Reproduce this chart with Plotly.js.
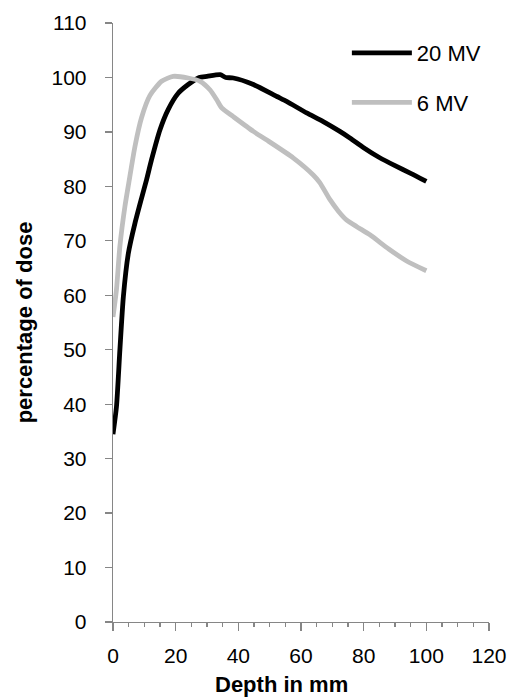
<!DOCTYPE html>
<html>
<head>
<meta charset="utf-8">
<script src="https://cdn.plot.ly/plotly-3.0.1.min.js"></script>
<style>html,body{margin:0;padding:0;background:#fff;}#chart{width:514px;height:700px;}</style>
</head>
<body>
<div id="chart"></div>
<script>
const seriesNames = ["20 MV", "6 MV"];
const depth20 = [0, 1.1, 2.2, 3.3, 4.9, 7, 9.1, 10.7, 12.3, 15, 17.6, 20.8, 24, 27.5, 30, 34.2, 36, 38.4, 44.8, 52.3, 55.4, 61.8, 67.1, 72.4, 75.6, 80, 85, 90, 95, 100];
const dose20 = [34.5, 39.5, 50, 59.7, 67.7, 73.2, 77.8, 81.2, 84.9, 90.4, 94.1, 97.1, 98.7, 100, 100.2, 100.5, 100.0, 99.9, 98.7, 96.5, 95.6, 93.5, 91.9, 90.1, 88.9, 87.1, 85.3, 83.8, 82.4, 80.9];
const depth6 = [0, 1.1, 2.2, 3.8, 5, 7, 9.1, 11.8, 15.5, 19.2, 24, 27.8, 31, 33.1, 34.7, 38.4, 44.8, 49.1, 57.6, 63.9, 66, 69.2, 72, 74.6, 77.8, 82, 88, 93.7, 100];
const dose6 = [56, 61, 69, 76.3, 80.5, 87.3, 92.6, 96.7, 99.3, 100.2, 99.9, 99.3, 97.7, 95.9, 94.4, 92.8, 90.1, 88.5, 85.2, 82.1, 80.7, 77.6, 75.4, 73.8, 72.6, 71.1, 68.5, 66.3, 64.5];
const xTitle = "Depth in mm";
const yTitle = "percentage of dose";

const FONT = "Liberation Sans, Arial, sans-serif";
const axisGray = "#868686";

const traces = [
  {x: depth20, y: dose20, name: seriesNames[0], mode: "lines", legendgroup: "a",
   line: {color: "#000000", width: 4.8, shape: "spline", smoothing: 0.6}},
  {x: depth6, y: dose6, name: seriesNames[1], mode: "lines", legendgroup: "b",
   line: {color: "#BFBFBF", width: 4.8, shape: "spline", smoothing: 0.6}}
];

const layout = {
  width: 514, height: 700,
  margin: {l: 113, r: 25, t: 23, b: 78},
  paper_bgcolor: "#fff", plot_bgcolor: "#fff",
  font: {family: FONT, size: 21, color: "#000"},
  showlegend: true,
  legend: {x: 0.622, y: 0.985, xanchor: "left", yanchor: "top",
           bgcolor: "rgba(0,0,0,0)", font: {size: 22, family: FONT},
           itemwidth: 60, tracegroupgap: 18, traceorder: "grouped"},
  xaxis: {range: [0, 120], dtick: 20, tick0: 0, showgrid: false, zeroline: false,
          showline: true, linecolor: axisGray, linewidth: 1.3,
          ticks: "outside", ticklen: 8, tickcolor: axisGray, tickwidth: 1.3,
          minor: {dtick: 5, tick0: 0, ticks: "outside", ticklen: 4, tickcolor: axisGray, tickwidth: 1.3, showgrid: false},
          tickfont: {size: 21, family: FONT}, ticklabelstandoff: 6, fixedrange: true},
  yaxis: {range: [0, 110], dtick: 10, tick0: 0, showgrid: false, zeroline: false,
          showline: true, linecolor: axisGray, linewidth: 1.3,
          ticks: "outside", ticklen: 7, tickcolor: axisGray, tickwidth: 1.3,
          tickfont: {size: 21, family: FONT}, ticklabelstandoff: 14,
          title: {text: "<b>" + yTitle + "</b>", font: {size: 22, family: FONT}, standoff: 12},
          fixedrange: true},
  annotations: [
    {text: "<b>" + xTitle + "</b>", xref: "paper", yref: "paper", x: 0.447, y: -0.105,
     xanchor: "center", yanchor: "middle", showarrow: false, font: {size: 22, family: FONT}}
  ]
};

Plotly.newPlot("chart", traces, layout, {displayModeBar: false, staticPlot: true});
</script>
</body>
</html>
